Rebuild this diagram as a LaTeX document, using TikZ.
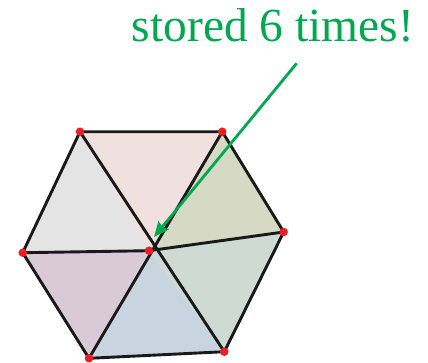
\documentclass[tikz,border=0pt]{standalone}
\usepackage{fontspec}
\setmainfont{Liberation Serif}
\usetikzlibrary{arrows.meta}
\definecolor{lblgreen}{RGB}{0,168,80}
\definecolor{fA}{RGB}{240,224,222}
\definecolor{fB}{RGB}{228,228,228}
\definecolor{fC}{RGB}{214,218,196}
\definecolor{fD}{RGB}{208,218,212}
\definecolor{fE}{RGB}{200,212,224}
\definecolor{fF}{RGB}{218,202,216}
\definecolor{dotred}{RGB}{235,30,35}
\tikzset{
  edge/.style={draw=black!90,line width=2.9pt,line join=round},
  vdot/.style={circle,fill=dotred,inner sep=0pt,minimum size=8.5pt},
  callout/.style={draw=lblgreen,line width=2.8pt,-{Stealth[length=15pt,width=13pt,inset=2pt]}},
}
\begin{document}
\begin{tikzpicture}[x=1pt,y=-1pt]
\useasboundingbox (0,0) rectangle (428,362);
\coordinate (tl) at (80,131.7);
\coordinate (tr) at (222.3,131.7);
\coordinate (r) at (283.7,232);
\coordinate (br) at (224.3,351.7);
\coordinate (bl) at (89,358.3);
\coordinate (l) at (22.7,252.7);
\coordinate (c) at (149,250.7);
\fill[fA] (tl) -- (tr) -- (c) -- cycle;
\fill[fB] (tl) -- (c) -- (l) -- cycle;
\fill[fC] (tr) -- (r) -- (c) -- cycle;
\fill[fD] (r) -- (br) -- (c) -- cycle;
\fill[fE] (br) -- (bl) -- (c) -- cycle;
\fill[fF] (bl) -- (l) -- (c) -- cycle;
\draw[edge] (tl) -- (tr) -- (r) -- (br) -- (bl) -- (l) -- cycle;
\draw[edge] (tl) -- (br);
\draw[edge] (tr) -- (bl);
\draw[edge] (l) -- (c) -- (r);
\foreach \v in {tl,tr,r,br,bl,l,c} \node[vdot] (d\v) at (\v) {};
\node[anchor=base,text=lblgreen,font=\fontsize{47.5}{50}\selectfont,inner sep=0pt] (lbl) at (273,41.7) {stored 6 times!};
\coordinate (astart) at (296.7,63.3);
\coordinate (atip) at (154,237);
\draw[callout] (astart) -- (atip);
\end{tikzpicture}
\end{document}
